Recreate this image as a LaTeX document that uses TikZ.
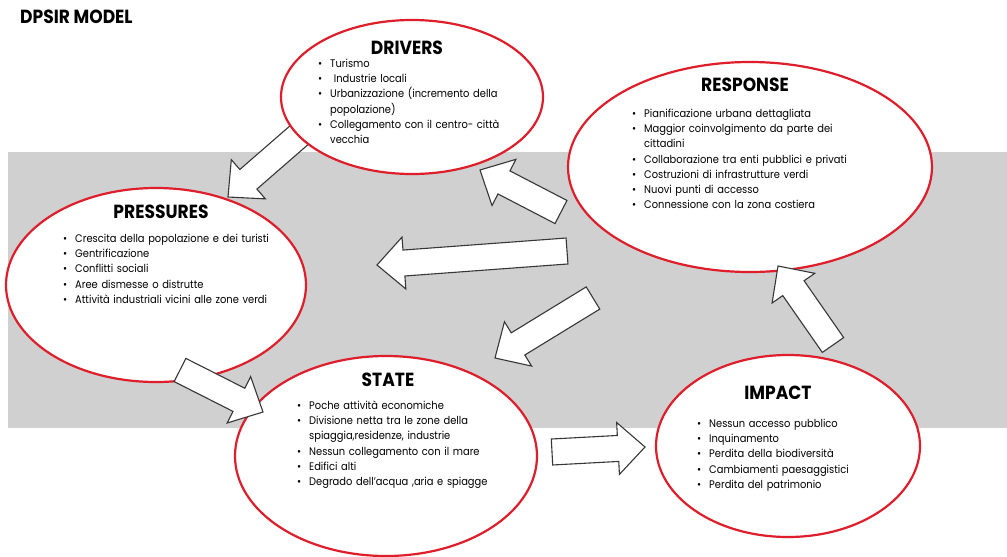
\documentclass[tikz,border=0pt]{standalone}
\usepackage{fontspec}
\setmainfont[FakeStretch=0.9]{Poppins}
\usepackage{enumitem}
\usetikzlibrary{calc,shapes.geometric}
\definecolor{bandgray}{RGB}{208,208,208}
\definecolor{ered}{RGB}{222,30,42}
\definecolor{aline}{RGB}{55,55,55}
\newcommand{\blockarrow}[2]{%
  \path ($(#2)!27pt!(#1)$) coordinate (hb-#1);
  \draw[barrow] ($(#1)!13pt!90:(#2)$) -- ($(hb-#1)!13pt!90:(#2)$) -- ($(hb-#1)!26pt!90:(#2)$)
    -- (#2) -- ($(hb-#1)!26pt!-90:(#2)$) -- ($(hb-#1)!13pt!-90:(#2)$) -- ($(#1)!13pt!-90:(#2)$) -- cycle;}
\newcommand{\blist}[1]{\begin{itemize}[nosep,leftmargin=13pt,labelsep=8pt,label=\textbullet]#1\end{itemize}}
\tikzset{
  elli/.style={ellipse, draw=ered, line width=2.2pt, fill=white, inner sep=0pt},
  barrow/.style={draw=aline, line width=1.1pt, fill=white, line join=miter},
  ttl/.style={font=\fontsize{19}{22}\selectfont\bfseries, inner sep=0pt},
  lst/.style={anchor=north west, inner sep=0pt, text width=260pt, align=left,
    font=\fontsize{11}{15.2}\selectfont}
}
\begin{document}
\begin{tikzpicture}[x=1pt,y=-1pt]
\useasboundingbox (0,0) rectangle (1007,557);
\fill[white] (0,0) rectangle (1007,557);
\fill[bandgray] (8,152) rectangle (1007,428);
\node[anchor=west, inner sep=0pt, font=\fontsize{19}{21}\selectfont\bfseries] (title) at (20,17) {DPSIR MODEL};
% arrow tucked under DRIVERS
\coordinate (a1t) at (305,130); \coordinate (a1h) at (228,197);
\blockarrow{a1t}{a1h}
% ellipses
\node[elli, minimum width=262pt, minimum height=154pt] (drivers) at (412,97) {};
\node[elli, minimum width=364pt, minimum height=210pt] (response) at (750,167) {};
\node[elli, minimum width=300pt, minimum height=194pt] (pressures) at (156,285) {};
\node[elli, minimum width=302pt, minimum height=200pt] (state) at (386,456) {};
\node[elli, minimum width=264pt, minimum height=182pt] (impact) at (788,446) {};
% arrows
\coordinate (a2t) at (180,370); \coordinate (a2h) at (263,412);
\coordinate (a3t) at (561,212); \coordinate (a3h) at (480,170);
\coordinate (a4t) at (593,298); \coordinate (a4h) at (495,358);
\coordinate (a5t) at (552,452); \coordinate (a5h) at (645,447);
\coordinate (a6t) at (833,345); \coordinate (a6h) at (778,266);
\coordinate (a7t) at (567,251); \coordinate (a7h) at (377,265);
\blockarrow{a2t}{a2h}
\blockarrow{a3t}{a3h}
\blockarrow{a4t}{a4h}
\blockarrow{a5t}{a5h}
\blockarrow{a6t}{a6h}
\blockarrow{a7t}{a7h}
% titles
\node[ttl] (tdrivers) at (407,48) {DRIVERS};
\node[ttl] (tresponse) at (745,85) {RESPONSE};
\node[ttl] (tpressures) at (161,212) {PRESSURES};
\node[ttl] (tstate) at (388,380) {STATE};
\node[ttl] (timpact) at (778,393) {IMPACT};
% lists
\node[lst] (ldrivers) at (317,52) {\blist{\item Turismo \item \ Industrie locali \item Urbanizzazione (incremento della\\popolazione) \item Collegamento con il centro- città\\vecchia}};
\node[lst] (lresponse) at (631,102) {\blist{\item Pianificazione urbana dettagliata \item Maggior coinvolgimento da parte dei\\cittadini \item Collaborazione tra enti pubblici e privati \item Costruzioni di infrastrutture verdi \item Nuovi punti di accesso \item Connessione con la zona costiera}};
\node[lst] (lpressures) at (62,227) {\blist{\item Crescita della popolazione e dei turisti \item Gentrificazione \item Conflitti sociali \item Aree dismesse o distrutte \item Attività industriali vicini alle zone verdi}};
\node[lst] (lstate) at (296,394) {\blist{\item Poche attività economiche \item Divisione netta tra le zone della\\spiaggia,residenze, industrie \item Nessun collegamento con il mare \item Edifici alti \item Degrado dell’acqua ,aria e spiagge}};
\node[lst] (limpact) at (696,412) {\blist{\item Nessun accesso pubblico \item Inquinamento \item Perdita della biodiversità \item Cambiamenti paesaggistici \item Perdita del patrimonio}};
\end{tikzpicture}
\end{document}
